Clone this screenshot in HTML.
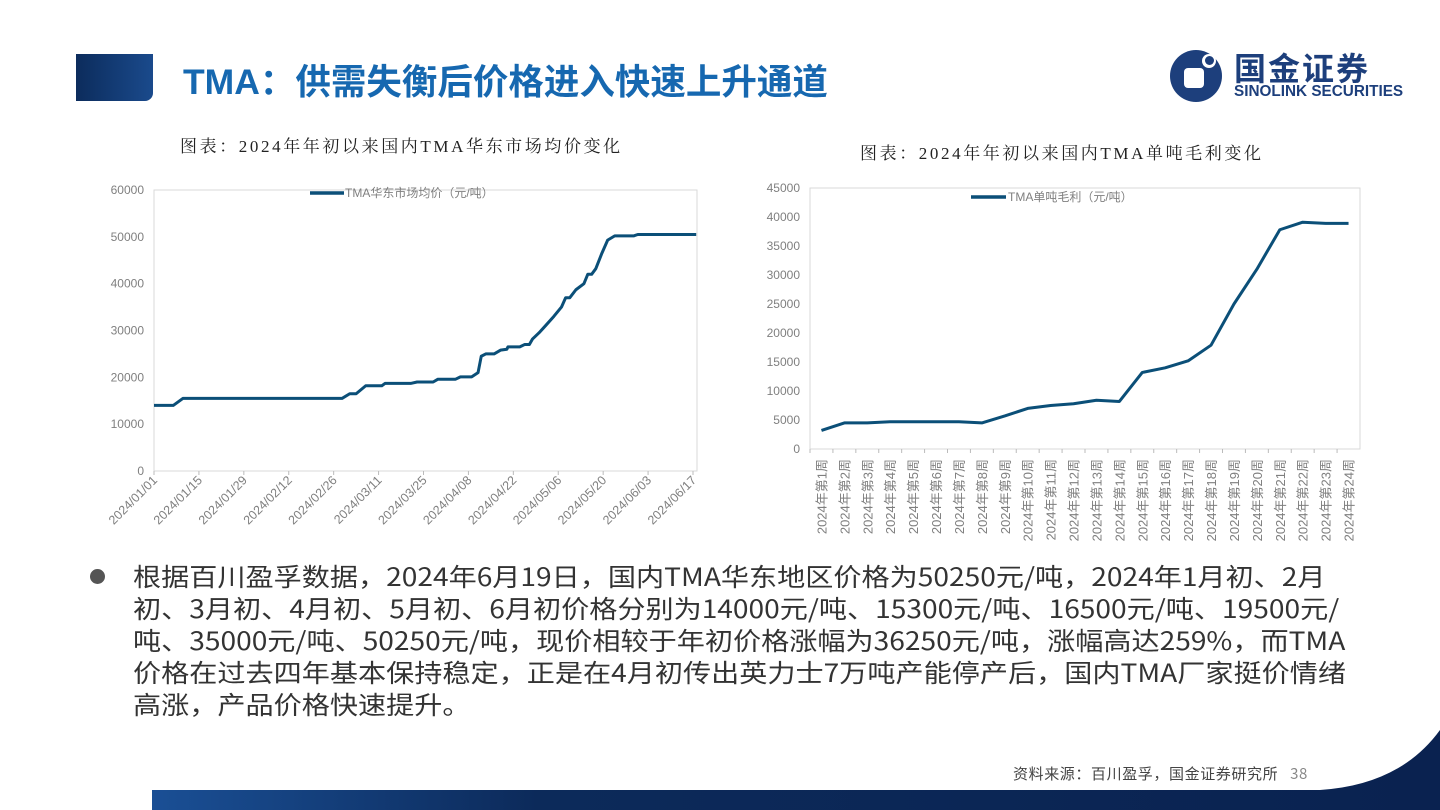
<!DOCTYPE html>
<html><head><meta charset="utf-8">
<style>
body{margin:0;width:1440px;height:810px;overflow:hidden;background:#fff;position:relative;font-family:"Liberation Sans","Noto Sans CJK SC",sans-serif;}
.abs{position:absolute;}
.title{left:183px;top:54px;font-size:35.5px;font-weight:bold;color:#1668b0;white-space:nowrap;font-family:"Liberation Sans","Noto Sans CJK SC",sans-serif;}
.ctitle{font-family:"Liberation Serif","Noto Serif CJK SC",serif;font-size:17px;color:#222;white-space:nowrap;letter-spacing:2.6px;}
.body{left:133px;top:560px;font-size:25px;line-height:32px;color:#333;white-space:nowrap;font-family:"Noto Sans CJK SC",sans-serif;transform:scaleX(1.125);transform-origin:0 0;}
</style></head><body>
<div class="abs" style="left:76px;top:54px;width:77px;height:47px;background:linear-gradient(90deg,#0c2c5c,#1a4a8c);border-bottom-right-radius:8px;"></div>
<div class="abs title">TMA：供需失衡后价格进入快速上升通道</div>
<div class="abs" style="left:1170px;top:48px;width:240px;height:55px;">
  <div style="position:absolute;left:0;top:2px;width:52px;height:52px;border-radius:50%;background:#1d3f7c;"></div>
  <div style="position:absolute;left:14px;top:20px;width:20px;height:20px;border-radius:4px;background:#fff;"></div>
  <div style="position:absolute;left:32px;top:6px;width:14px;height:14px;border-radius:50%;background:#fff;"></div>
  <div style="position:absolute;left:35px;top:8px;width:9px;height:9px;border-radius:50%;background:#1d3f7c;"></div>
  <div style="position:absolute;left:64px;top:-4px;font-size:32px;font-weight:bold;color:#1d3f7c;font-family:'Noto Sans CJK SC',sans-serif;letter-spacing:2px;">国金证券</div>
  <div style="position:absolute;left:64px;top:35px;font-size:15.3px;font-weight:bold;color:#1d3f7c;white-space:nowrap;">SINOLINK SECURITIES</div>
</div>
<div class="abs ctitle" style="left:180px;top:132px;">图表：2024年年初以来国内TMA华东市场均价变化</div>
<div class="abs ctitle" style="left:860px;top:139px;">图表：2024年年初以来国内TMA单吨毛利变化</div>

<svg class="abs" style="left:0;top:0" width="1440" height="810">
<g id="left"></g>
<g id="right"></g>
</svg>

<div class="abs" style="left:90px;top:569px;width:15px;height:15px;border-radius:50%;background:#555;"></div>
<div class="abs body">根据百川盈孚数据，2024年6月19日，国内TMA华东地区价格为50250元/吨，2024年1月初、2月<br>初、3月初、4月初、5月初、6月初价格分别为14000元/吨、15300元/吨、16500元/吨、19500元/<br>吨、35000元/吨、50250元/吨，现价相较于年初价格涨幅为36250元/吨，涨幅高达259%，而TMA<br>价格在过去四年基本保持稳定，正是在4月初传出英力士7万吨产能停产后，国内TMA厂家挺价情绪<br>高涨，产品价格快速提升。</div>

<div class="abs" style="left:1013px;top:763px;font-size:15px;color:#444;white-space:nowrap;font-family:'Noto Sans CJK SC',sans-serif;letter-spacing:0.6px;">资料来源：百川盈孚，国金证券研究所&nbsp;&nbsp;&nbsp;<span style="color:#888">38</span></div>
<svg class="abs" style="left:0;top:0" width="1440" height="810">
<defs><linearGradient id="fg" x1="0" x2="1"><stop offset="0" stop-color="#1a4f95"/><stop offset="0.3" stop-color="#0c2a5a"/><stop offset="1" stop-color="#0a2250"/></linearGradient></defs>
<path d="M152,790 L1320,790 Q1400,785 1440,730 L1440,810 L152,810 Z" fill="url(#fg)"/>
</svg>

<script>
const NS='http://www.w3.org/2000/svg';
function mk(p,tag,attrs,txt){const e=document.createElementNS(NS,tag);for(const k in attrs)e.setAttribute(k,attrs[k]);if(txt!==undefined)e.textContent=txt;p.appendChild(e);return e;}
// ---- left chart data ----
const leftDays=[0,6,9,58.6,61,63,66,71,72,80,82,87,88.5,94,95.5,99,101,102,103.4,106,108,110,110.3,114,115.5,117,118,120,122,124.6,127,128.3,129.6,131.5,134,135.2,136.4,137.7,139.6,141.4,143.6,149.5,150.8,169];
const leftValues=[14000,14000,15500,15500,16500,16500,18200,18200,18700,18700,19000,19000,19600,19600,20100,20100,21000,24500,25000,25000,25800,26000,26500,26500,27000,27000,28200,29500,31000,33000,35000,37000,37000,38700,40000,42000,42000,43200,46500,49300,50200,50200,50500,50500];
const leftTicks=[0,10000,20000,30000,40000,50000,60000];
const leftDateLabels=['2024/01/01','2024/01/15','2024/01/29','2024/02/12','2024/02/26','2024/03/11','2024/03/25','2024/04/08','2024/04/22','2024/05/06','2024/05/20','2024/06/03','2024/06/17'];
// ---- right chart data ----
const rightCats=[];for(let i=1;i<=24;i++)rightCats.push('2024年第'+i+'周');
const rightValues=[3200,4500,4500,4700,4700,4700,4700,4500,5700,7000,7500,7800,8400,8200,13200,14000,15200,17900,25000,31000,37800,39100,38900,38900];
const rightTicks=[0,5000,10000,15000,20000,25000,30000,35000,40000,45000];

const col='#0b4f78', gc='#d9d9d9', tc='#7f7f7f';
// left
(function(){
 const g=document.getElementById('left');
 const x0=154,x1=697,y0=471,y1=190;
 const xs=d=>x0+d*(693-154)/168, ys=v=>y0-(v/60000)*(y0-y1);
 const box=mk(g,'rect',{x:x0,y:y1,width:x1-x0,height:y0-y1,fill:'none',stroke:gc});
 
 leftTicks.forEach(t=>{const e=mk(g,'text',{x:x0-10,y:ys(t)+4,'text-anchor':'end','font-size':12,fill:tc},t);
  });
 leftDateLabels.forEach((l,i)=>{const x=xs(i*14);
  mk(g,'line',{x1:x,x2:x,y1:y0,y2:y0+4,stroke:'#bbb'});
  const e=mk(g,'text',{x:x+4,y:y0+10,'text-anchor':'end','font-size':12.5,fill:tc,transform:`rotate(-45 ${x+4} ${y0+10})`},l);
  });
 const pts=leftDays.map((d,i)=>xs(d)+','+ys(leftValues[i])).join(' ');
 const pl=mk(g,'polyline',{points:pts,fill:'none',stroke:col,'stroke-width':3,'stroke-linejoin':'round'});
 
 mk(g,'line',{x1:310,x2:344,y1:193,y2:193,stroke:col,'stroke-width':3.5});
 const lt=mk(g,'text',{x:345,y:197,'font-size':12,fill:tc},'TMA华东市场均价（元/吨）');
 
})();
// right
(function(){
 const g=document.getElementById('right');
 const x0=810,x1=1360,y0=449,y1=188;
 const cw=(x1-x0)/rightCats.length;
 const xs=i=>x0+cw*(i+0.5), ys=v=>y0-(v/45000)*(y0-y1);
 const box=mk(g,'rect',{x:x0,y:y1,width:x1-x0,height:y0-y1,fill:'none',stroke:gc});
 
 rightTicks.forEach(t=>{const e=mk(g,'text',{x:x0-10,y:ys(t)+4,'text-anchor':'end','font-size':12,fill:tc},t);
  });
 rightCats.forEach((c,i)=>{const xt=x0+cw*i;
  mk(g,'line',{x1:xt,x2:xt,y1:y0,y2:y0+4,stroke:'#bbb'});
  const x=xs(i)+5;
  const e=mk(g,'text',{x:x,y:y0+10,'text-anchor':'end','font-size':13,fill:tc,transform:`rotate(-90 ${x} ${y0+10})`},c);
  });
 const pts=rightValues.map((v,i)=>xs(i)+','+ys(v)).join(' ');
 const pl=mk(g,'polyline',{points:pts,fill:'none',stroke:col,'stroke-width':3,'stroke-linejoin':'round'});
 
 mk(g,'line',{x1:971,x2:1006,y1:197,y2:197,stroke:col,'stroke-width':3.5});
 const lt=mk(g,'text',{x:1008,y:201,'font-size':12,fill:tc},'TMA单吨毛利（元/吨）');
 
})();
</script>
</body></html>
